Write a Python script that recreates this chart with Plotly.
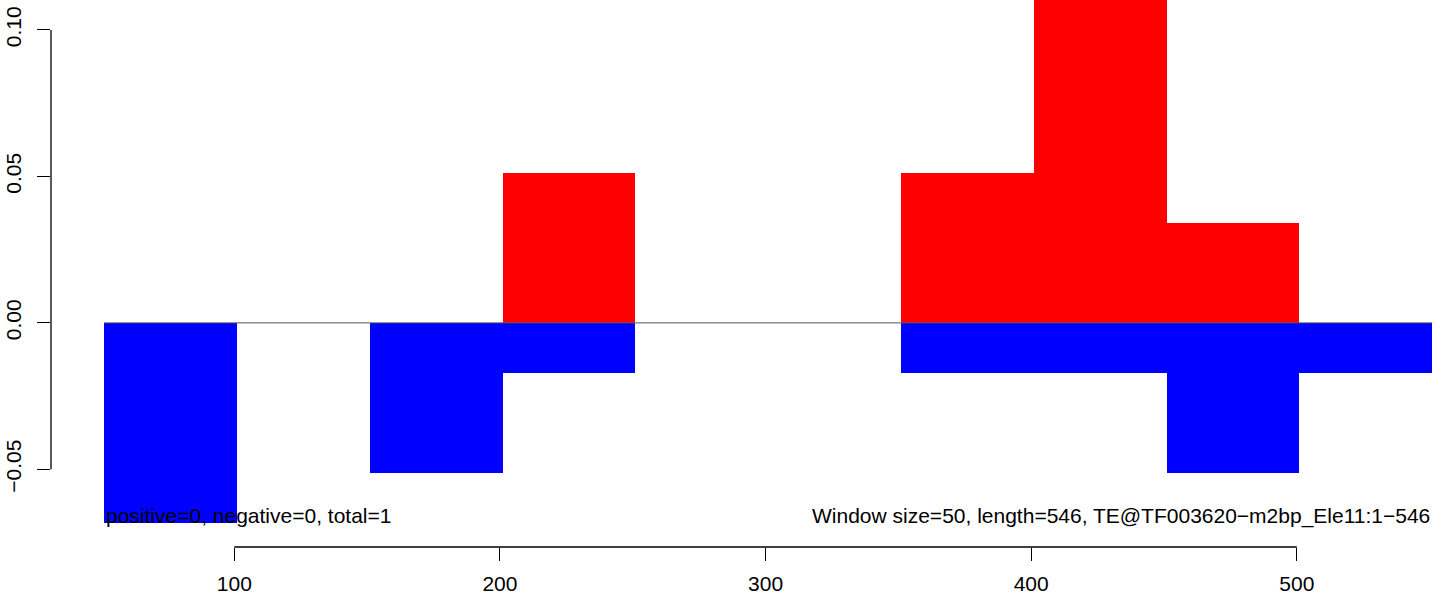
import plotly.graph_objects as go

# Window left edges (window size 50)
window_start = [51, 101, 151, 201, 251, 301, 351, 401, 451, 501]
positive = [0, 0, 0, 0.0513, 0, 0, 0.0513, 0.137, 0.0342, 0]
negative = [-0.0684, 0, -0.0513, -0.0171, 0, 0, -0.0171, -0.0171, -0.0513, -0.0171]
window_size = 50

x_ticks = [100, 200, 300, 400, 500]
y_ticks = [-0.05, 0.0, 0.05, 0.10]
y_ticktext = ["\u22120.05", "0.00", "0.05", "0.10"]

left_label = "positive=0, negative=0, total=1"
right_label = "Window size=50, length=546, TE@TF003620\u2212m2bp_Ele11:1\u2212546"

FONT = "Liberation Sans, Arial, Helvetica, sans-serif"

fig = go.Figure()

# zero baseline spanning the windows
fig.add_trace(go.Scatter(
    x=[window_start[0], window_start[-1] + window_size], y=[0, 0],
    mode="lines", line=dict(color="#555555", width=1),
    hoverinfo="skip", showlegend=False))

fig.add_trace(go.Bar(
    x=window_start, y=positive, width=window_size, offset=0,
    marker=dict(color="#ff0000", line=dict(width=0)), showlegend=False))
fig.add_trace(go.Bar(
    x=window_start, y=negative, width=window_size, offset=0,
    marker=dict(color="#0000ff", line=dict(width=0)), showlegend=False))

fig.update_layout(
    width=1444, height=594,
    margin=dict(l=51, r=0, t=0, b=47, autoexpand=False),
    paper_bgcolor="white", plot_bgcolor="white",
    barmode="overlay", bargap=0,
    font=dict(family=FONT, size=21, color="black"),
    hovermode=False,
    xaxis=dict(range=[31, 555.4], tickvals=x_ticks, ticks="outside",
               ticklen=13, tickwidth=1.3, tickcolor="black",
               showgrid=False, zeroline=False, showline=False,
               automargin=False, ticklabelstandoff=5,
               tickfont=dict(family=FONT, size=21, color="black")),
    yaxis=dict(range=[-0.0765, 0.1102], tickvals=y_ticks, ticktext=y_ticktext,
               ticks="outside", ticklen=13, tickwidth=1.3, tickcolor="black",
               tickangle=-90,
               showgrid=False, zeroline=False, showline=False,
               automargin=False, ticklabelstandoff=8,
               tickfont=dict(family=FONT, size=21, color="black")),
)

# R-style axis lines spanning only first to last tick
fig.add_shape(type="line", xref="x", yref="paper",
              x0=x_ticks[0], x1=x_ticks[-1], y0=0, y1=0,
              line=dict(color="black", width=1.3), layer="above")
fig.add_shape(type="line", xref="paper", yref="y",
              x0=0, x1=0, y0=y_ticks[0], y1=y_ticks[-1],
              line=dict(color="black", width=1.3), layer="above")

fig.add_annotation(x=window_start[0], y=-0.0658, xref="x", yref="y",
                   text=left_label, showarrow=False,
                   xanchor="left", yanchor="middle",
                   font=dict(family=FONT, size=21, color="black"))
fig.add_annotation(x=window_start[-1] + window_size, y=-0.0658, xref="x", yref="y",
                   text=right_label, showarrow=False,
                   xanchor="right", yanchor="middle",
                   font=dict(family=FONT, size=21, color="black"))

fig.write_html("out.html", config={"displayModeBar": False},
               post_script="document.body.style.margin='0px';document.body.style.overflow='hidden';")
